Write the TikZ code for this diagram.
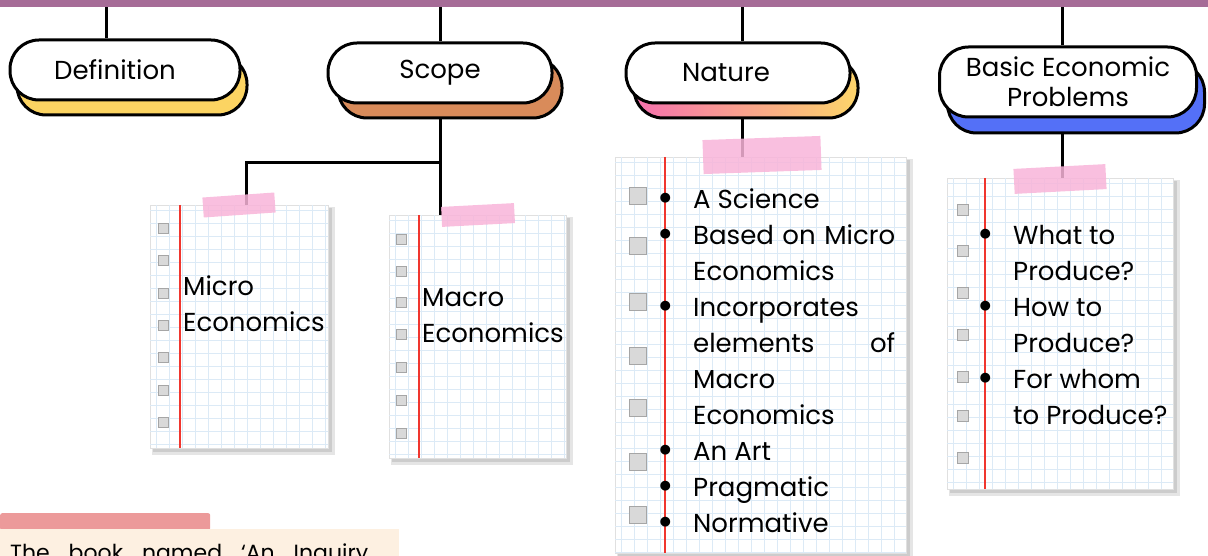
\documentclass[tikz,border=0pt]{standalone}
\usepackage{fontspec}
\setmainfont{Poppins}
\usetikzlibrary{positioning}
\definecolor{barPurple}{HTML}{A66C97}
\definecolor{defYellow}{HTML}{FCD462}
\definecolor{scopeBrown}{HTML}{D98B5A}
\definecolor{natPink}{HTML}{F571AE}
\definecolor{natYellow}{HTML}{FDD56A}
\definecolor{probBlue}{HTML}{5470F7}
\definecolor{tapePink}{HTML}{F8B4D9}
\definecolor{gridBlue}{HTML}{DCEAF6}
\definecolor{marginRed}{HTML}{F0362E}
\definecolor{tabRed}{HTML}{EC9A9A}
\definecolor{noteCream}{HTML}{FDF0E1}
\tikzset{pill/.style={rectangle,rounded corners=29pt,draw=black,line width=3pt,fill=white,
inner sep=2pt,font=\fontsize{26}{30}\selectfont,align=center}}
\tikzset{link/.style={line width=3pt,draw=black}}
\tikzset{paper/.style={rectangle,fill=white,draw=black!12,line width=0.8pt,inner sep=0pt}}
\tikzset{tape/.style={rectangle,fill=tapePink,fill opacity=0.85,inner sep=0pt,minimum height=20pt}}
\tikzset{checkbox/.style={rectangle,fill=black!15,draw=black!35,line width=0.8pt,inner sep=0pt}}
\tikzset{notetext/.style={inner sep=0pt,align=left,font=\fontsize{26}{36}\selectfont,anchor=base west}}
\newcommand\bul{\llap{\raisebox{-3pt}{\fontsize{40}{36}\selectfont\textbullet}\hspace{19pt}}}
\newcommand\notepage[9]{%
  \fill[black!10] (#2+2,#3+2) rectangle (#4+7,#5+7);
  \fill[black!20] (#2+3,#3+3) rectangle (#4+4,#5+4);
  \node[paper,minimum width={#4-#2},minimum height={#5-#3}] (#1) at ({(#2+#4)/2},{(#3+#5)/2}) {};
  \begin{scope}
    \clip (#1.north west) rectangle (#1.south east);
    \foreach \gx in {0,13,...,300} \draw[gridBlue,line width=0.7pt] ({#2+6+\gx},#3) -- ({#2+6+\gx},#5);
    \foreach \gy in {0,13,...,400} \draw[gridBlue,line width=0.7pt] (#2,{#3+5+\gy}) -- (#4,{#3+5+\gy});
  \end{scope}
  \draw[marginRed,line width=1.2pt] (#6,#3) -- (#6,#5);
  \foreach \cy in {#9} \node[checkbox,minimum size=#8] at (#7,\cy) {};
}

\begin{document}
\begin{tikzpicture}[x=1pt,y=-1pt]
    \useasboundingbox (0,0) rectangle (1208,556);
    \node[rectangle,fill=barPurple,minimum width=1208pt,minimum height=7pt,inner sep=0pt,anchor=north west] (bar) at (0,0) {};

    \node[pill,fill=defYellow,minimum width=230pt,minimum height=60pt] (shadeDef) at (132,85) {};
    \node[pill,minimum width=230pt,minimum height=60pt] (boxDef) at (125,70) {Definition\hspace{20pt}};
    \node[pill,fill=scopeBrown,minimum width=224pt,minimum height=60pt] (shadeScope) at (450,88) {};
    \node[pill,minimum width=224pt,minimum height=60pt] (boxScope) at (440,73) {Scope};
    \node[pill,left color=natPink,right color=natYellow,minimum width=224pt,minimum height=60pt] (shadeNature) at (746,88) {};
    \node[pill,minimum width=224pt,minimum height=60pt] (boxNature) at (738,73) {Nature\hspace{24pt}};
    \node[pill,fill=probBlue,minimum width=257pt,minimum height=70pt] (shadeProb) at (1076,98) {};
    \node[pill,minimum width=257pt,minimum height=70pt] (boxProb) at (1068,82) {Basic Economic\\Problems};

    \notepage{micro}{150}{205}{328}{448}{180}{163}{10}{228,260,293,325,357,390,422}
    \notepage{macro}{389}{215}{566}{458}{419}{401}{10}{239,271,302,334,367,400,433}
    \notepage{nature}{615}{157}{906}{553}{665}{638}{17}{196,246,302,356,408,462,515}
    \notepage{problems}{947}{178}{1173}{489}{985}{963}{11}{210,251,293,335,377,416,458}

    \node[notetext] (microText) at (183,331) {Micro\\Economics};
    \node[notetext] (macroText) at (422,342) {Macro\\Economics};
    \node[notetext] (natureText) at (693,532) {\bul A Science\\
        \bul\makebox[202pt][s]{Based on Micro}\\
        Economics\\
        \bul Incorporates\\
        \makebox[202pt][s]{elements of}\\
        Macro\\
        Economics\\
        \bul An Art\\
        \bul Pragmatic\\
        \bul Normative};
    \node[notetext] (probText) at (1013,424) {\bul What to\\
        Produce?\\
        \bul How to\\
        Produce?\\
        \bul For whom\\
        to Produce?};

    \draw[link] ([xshift=-19pt]boxDef.north) -- ([xshift=-19pt]boxDef.north |- bar.south);
    \draw[link] (boxScope.north) -- (boxScope.north |- bar.south);
    \draw[link] ([xshift=4pt]boxNature.north) -- ([xshift=4pt]boxNature.north |- bar.south);
    \draw[link] ([xshift=-6pt]boxProb.north) -- ([xshift=-6pt]boxProb.north |- bar.south);

    \coordinate (fork) at (440,163);
    \draw[link] (boxScope.south |- shadeScope.south) -- (fork) -| ([xshift=7pt]micro.north);
    \draw[link] (fork) -- (fork |- macro.north);
    \draw[link] ([xshift=4pt]boxNature.south |- shadeNature.south) -- ([xshift=4pt]boxNature.south |- nature.north);
    \draw[link] ([xshift=-6pt]boxProb.south |- shadeProb.south) -- ([xshift=-6pt]boxProb.south |- problems.north);

    \node[tape,rotate=4,minimum width=72pt] (tapeMicro) at (239,205) {};
    \node[tape,rotate=3,minimum width=73pt] (tapeMacro) at (478,215) {};
    \node[tape,rotate=2,minimum width=118pt,minimum height=34pt] (tapeNature) at (762,155) {};
    \node[tape,rotate=3,minimum width=92pt,minimum height=25pt] (tapeProb) at (1060,179) {};

    \node[rectangle,fill=tabRed,rounded corners=2pt,minimum width=210pt,minimum height=17pt,inner sep=0pt,anchor=north west] (noteTab) at (0,513) {};
    \node[rectangle,fill=noteCream,minimum width=399pt,minimum height=40pt,inner sep=0pt,anchor=north west] (noteBox) at (0,529) {};
    \node[notetext,font=\fontsize{22}{30}\selectfont] (noteText) at (10,560) {\makebox[358pt][s]{The book named ‘An Inquiry}};
\end{tikzpicture}
\end{document}
